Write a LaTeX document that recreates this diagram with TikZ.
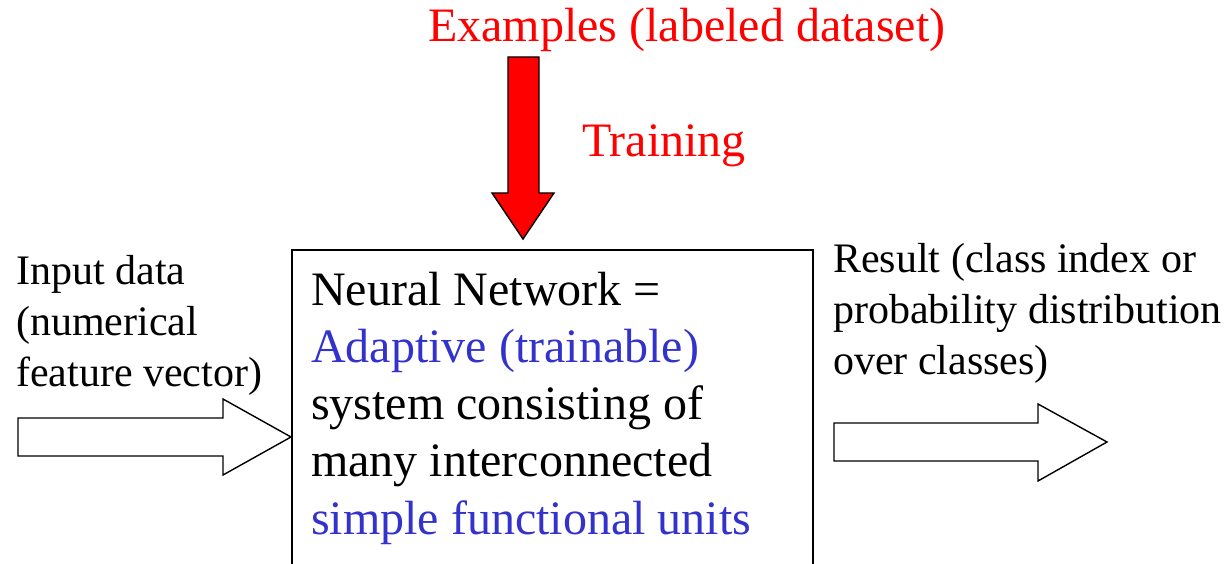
\documentclass[tikz,border=0pt]{standalone}
\usepackage{fontspec}
\setmainfont{Liberation Serif}
\usetikzlibrary{positioning}
\definecolor{nnblue}{RGB}{51,51,204}

\begin{document}
\begin{tikzpicture}[
          x=1pt, y=-1pt,
          netbox/.style={draw, line width=1.6pt, anchor=north west, minimum width=521pt, minimum height=340pt},
          blocktext/.style={anchor=base west, inner sep=0pt, align=left, font=\fontsize{48}{57.25}\selectfont},
          sidetext/.style={anchor=base west, inner sep=0pt, align=left, font=\fontsize{42}{51}\selectfont},
          redtext/.style={text=red, inner sep=0pt, anchor=base west, font=\fontsize{48}{57.25}\selectfont},
          hollow/.style={draw, line width=1.4pt, fill=white},
          trainarrow/.style={draw, line width=1.4pt, fill=red}
        ]
        \clip (0,0) rectangle (1232,564);
        \node[netbox] (nn) at (291,249) {};
        % multi-line nodes sit on their last baseline
        \node[blocktext] (desc) at (311,534) {Neural Network =\\
          \textcolor{nnblue}{Adaptive (trainable)}\\
          system consisting of\\
          many interconnected\\
          \textcolor{nnblue}{simple functional units}};
        \node[redtext] (examples) at (428,42) {Examples (labeled dataset)};
        \node[redtext] (training) at (582,157) {Training};
        \node[sidetext] (input) at (16,386) {Input data\\ (numerical\\ feature vector)};
        \node[sidetext] (result) at (833,374) {Result (class index or\\ probability distribution\\ over classes)};
        % block arrows
        \draw[trainarrow] (508,57) -- (539,57) -- (539,193) -- (554,193) -- (523,239)
          -- (492,193) -- (508,193) -- cycle;
        \draw[hollow] (18,418) -- (223,418) -- (223,399) -- (nn.west |- 0,437) -- (223,475)
          -- (223,456) -- (18,456) -- cycle;
        \draw[hollow] (834,423) -- (1038,423) -- (1038,404) -- (1107,442) -- (1038,481)
          -- (1038,461) -- (834,461) -- cycle;
\end{tikzpicture}
\end{document}
